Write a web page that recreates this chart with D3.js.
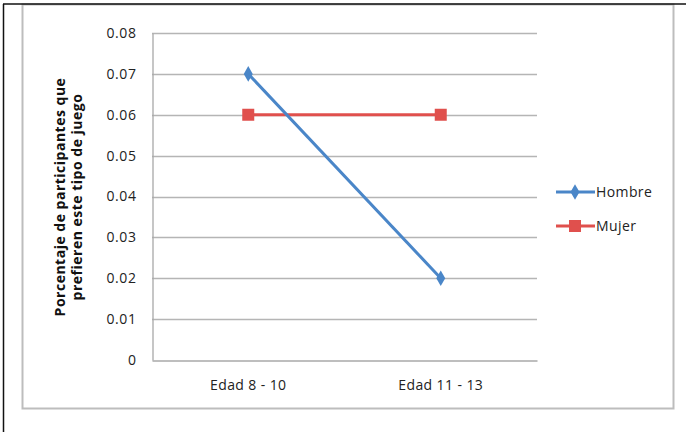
<!DOCTYPE html>
<html><head><meta charset="utf-8">
<script src="https://cdn.jsdelivr.net/npm/d3@7"></script>
<style>body{margin:0;background:#fff}svg{display:block}</style>
</head><body><svg id="c" width="686" height="432"></svg>
<script>
const categories = ["Edad 8 - 10", "Edad 11 - 13"];
const hombre = [0.07, 0.02];
const mujer = [0.06, 0.06];
const yTicks = [0, 0.01, 0.02, 0.03, 0.04, 0.05, 0.06, 0.07, 0.08];
const seriesNames = ["Hombre", "Mujer"];
const yTitle = ["Porcentaje de participantes que", "prefieren este tipo de juego"];

const svg = d3.select("#c");
const font = "Open Sans, Liberation Sans, sans-serif";
const blue = "#4a86c8", red = "#e0504d";

// outer frame
svg.append("rect").attr("x",22.5).attr("y",4.5).attr("width",651).attr("height",404)
  .attr("fill","none").attr("stroke","#bdbdbd").attr("stroke-width",2);
svg.append("line").attr("x1",3.5).attr("x2",3.5).attr("y1",4).attr("y2",432).attr("stroke","#111").attr("stroke-width",1.5);
svg.append("line").attr("x1",3).attr("x2",686).attr("y1",4).attr("y2",4).attr("stroke","#111").attr("stroke-width",1.5);

const L=152, R=537, T=33, B=360;
const x = d3.scaleBand().domain(categories).range([L,R]);
const y = d3.scaleLinear().domain([0,0.08]).range([B,T]);

// gridlines
svg.append("g").selectAll("line").data(yTicks.filter(d=>d>0)).join("line")
  .attr("x1",L).attr("x2",R).attr("y1",d=>Math.round(y(d))+0.5).attr("y2",d=>Math.round(y(d))+0.5)
  .attr("stroke","#b5b5b5").attr("stroke-width",1.3);

// y axis
const ya = svg.append("g").attr("transform",`translate(${L+0.5},0)`)
  .call(d3.axisLeft(y).tickValues(yTicks).tickSize(0).tickPadding(16)
    .tickFormat(d=>d===0?"0":d3.format(".2f")(d)));
ya.select(".domain").attr("stroke","#a8a8a8").attr("stroke-width",1.3);
ya.selectAll("text").attr("font-family",font).attr("font-size",14).attr("letter-spacing","0.6px").attr("font-weight",500).attr("fill","#222");

// x axis
const xa = svg.append("g").attr("transform",`translate(0,${B+0.5})`)
  .call(d3.axisBottom(x).tickSize(0).tickPadding(20));
xa.select(".domain").attr("stroke","#a8a8a8").attr("stroke-width",1.3);
xa.selectAll("text").attr("font-family",font).attr("font-size",14).attr("letter-spacing","0.4px").attr("font-weight",500).attr("fill","#222");

// y title
const yt = svg.append("text").attr("transform","translate(68,197) rotate(-90)")
  .attr("text-anchor","middle").attr("font-family",font).attr("font-size",14).attr("letter-spacing","0.5px").attr("font-weight",700).attr("fill","#111");
yTitle.forEach((t,i)=>yt.append("tspan").attr("x",0).attr("dy",i===0?"-0.2em":"1.2em").text(t));

const line = d3.line().x((d,i)=>x(categories[i])+x.bandwidth()/2).y(d=>y(d));
const diamond = d3.symbol().type(d3.symbolDiamond).size(70);

// Mujer
svg.append("path").attr("d",line(mujer)).attr("fill","none").attr("stroke",red).attr("stroke-width",3);
svg.append("g").selectAll("rect").data(mujer).join("rect")
  .attr("x",(d,i)=>x(categories[i])+x.bandwidth()/2-6).attr("y",d=>y(d)-6)
  .attr("width",12).attr("height",12).attr("fill",red);

// Hombre
svg.append("path").attr("d",line(hombre)).attr("fill","none").attr("stroke",blue).attr("stroke-width",3);
svg.append("g").selectAll("path").data(hombre).join("path")
  .attr("d",diamond).attr("transform",(d,i)=>`translate(${x(categories[i])+x.bandwidth()/2},${y(d)})`).attr("fill",blue);

// legend
const lg = svg.append("g");
const colors=[blue,red];
seriesNames.forEach((n,i)=>{
  const ly = 192 + i*34;
  lg.append("line").attr("x1",556).attr("x2",595).attr("y1",ly).attr("y2",ly).attr("stroke",colors[i]).attr("stroke-width",3);
  if(i===0) lg.append("path").attr("d",diamond).attr("transform",`translate(575,${ly})`).attr("fill",blue);
  else lg.append("rect").attr("x",569).attr("y",ly-6).attr("width",12).attr("height",12).attr("fill",red);
  lg.append("text").attr("x",596).attr("y",ly+5).attr("font-family",font).attr("font-size",14).attr("letter-spacing","0.4px").attr("fill","#222").text(n);
});
</script></body></html>
